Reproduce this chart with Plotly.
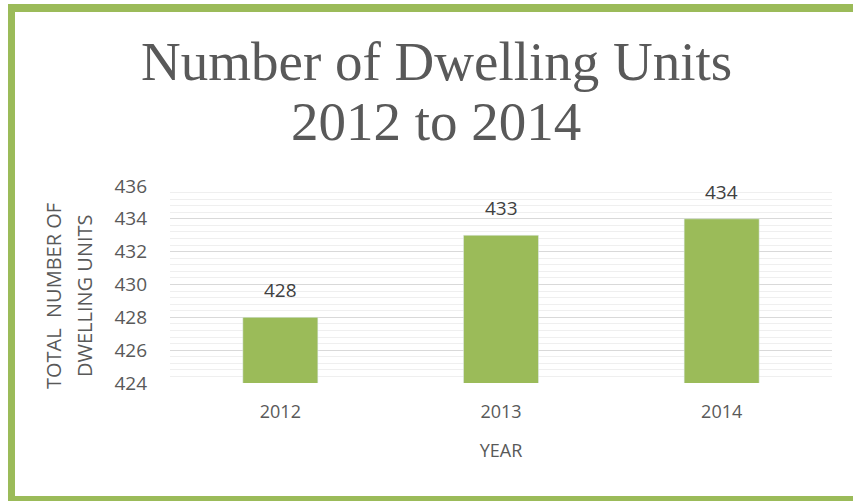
import plotly.graph_objects as go

years = ["2012", "2013", "2014"]
units = [428, 433, 434]
y_ticks = [424, 426, 428, 430, 432, 434, 436]

GREEN = "#9BBB59"
TXT = "#595959"
FONT = "Open Sans"

W, H = 853, 501
L, R, T, B = 170, 21, 186, 118
PW, PH = W - L - R, H - T - B


def px(x):
    return (x - L) / PW


def py(y):
    return (H - B - y) / PH


fig = go.Figure()
fig.add_trace(go.Bar(
    x=years, y=units, marker_color=GREEN, width=0.34,
))

# data labels (category index positions on the x axis)
for i, v in enumerate(units):
    fig.add_annotation(x=i, y=v, text=str(v), showarrow=False, yanchor="bottom",
                       yshift=12, font=dict(family=FONT, size=19, color="#404040"))

fig.update_layout(
    width=W, height=H,
    margin=dict(l=L, r=R, t=T, b=B),
    paper_bgcolor="white", plot_bgcolor="white",
    showlegend=False,
    xaxis=dict(
        type="category", categoryarray=years, categoryorder="array",
        tickfont=dict(family=FONT, size=18, color=TXT),
        showgrid=False, showline=False, ticks="",
        ticklabelstandoff=16,
        title=dict(text="YEAR", font=dict(family=FONT, size=18, color=TXT), standoff=22),
    ),
    yaxis=dict(
        range=[424, 436], tickvals=y_ticks,
        tickfont=dict(family=FONT, size=19, color=TXT),
        showgrid=True, gridcolor="#D9D9D9", gridwidth=1.3,
        minor=dict(dtick=0.4, tick0=424, showgrid=True, gridcolor="#EFEFEF", gridwidth=1.3),
        zeroline=False, showline=False, ticks="",
        ticklabelstandoff=22,
    ),
)

# title (two lines)
fig.add_annotation(text="Number of Dwelling Units", xref="paper", yref="paper",
                   x=px(436), y=py(62), xanchor="center", yanchor="middle", showarrow=False,
                   font=dict(family="Liberation Serif", size=55, color=TXT))
fig.add_annotation(text="2012 to 2014", xref="paper", yref="paper",
                   x=px(436), y=py(122), xanchor="center", yanchor="middle", showarrow=False,
                   font=dict(family="Liberation Serif", size=55, color=TXT))

# y-axis title (two lines)
for txt, cx in [("TOTAL  NUMBER OF", 53), ("DWELLING UNITS", 84)]:
    fig.add_annotation(text=txt, xref="paper", yref="paper",
                       x=px(cx), y=py(296), xanchor="center", yanchor="middle", showarrow=False,
                       textangle=-90, font=dict(family=FONT, size=20, color=TXT))

# green frame
frame = dict(type="rect", xref="paper", yref="paper", fillcolor=GREEN, line=dict(width=0), layer="above")
fig.add_shape(**frame, x0=px(8), x1=px(15), y0=py(505), y1=py(4))
fig.add_shape(**frame, x0=px(8), x1=px(860), y0=py(12), y1=py(4))
fig.add_shape(**frame, x0=px(8), x1=px(860), y0=py(505), y1=py(496))

fig.write_html("out.html", config={"displayModeBar": False},
               post_script="document.body.style.margin='0';document.body.style.overflow='hidden';")
